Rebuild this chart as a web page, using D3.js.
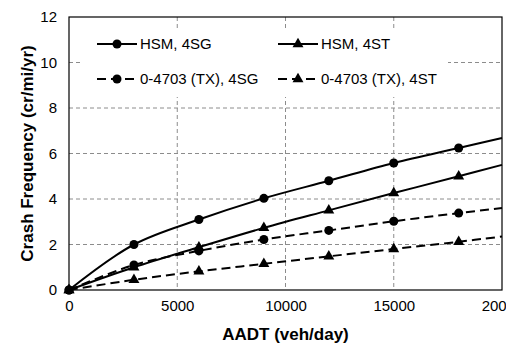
<!DOCTYPE html>
<html>
<head>
<meta charset="utf-8">
<script src="https://cdn.jsdelivr.net/npm/d3@7"></script>
<style>
  body { margin: 0; background: #fff; }
  svg { display: block; font-family: "Liberation Sans", Arial, sans-serif; }
</style>
</head>
<body>
<div id="chart"></div>
<script>
// AADT values along the curves (markers every 3000, curve runs to 20000)
const aadt = [0, 3000, 6000, 9000, 12000, 15000, 18000, 20000];
const markerMax = 18000;

// Crash frequency (cr/mi/yr)
const hsm4SG = [0, 2.0, 3.1, 4.03, 4.8, 5.58, 6.24, 6.68];
const hsm4ST = [0, 1.0, 1.88, 2.73, 3.5, 4.26, 5.0, 5.5];
const tx4SG = [0, 1.1, 1.72, 2.22, 2.62, 3.02, 3.38, 3.6];
const tx4ST = [0, 0.45, 0.82, 1.15, 1.48, 1.8, 2.12, 2.35];

const xTicks = [0, 5000, 10000, 15000, 20000];
const yTicks = [0, 2, 4, 6, 8, 10, 12];

const series = [
  { name: 'HSM, 4SG', values: hsm4SG, symbol: d3.symbolCircle, dashed: false },
  { name: 'HSM, 4ST', values: hsm4ST, symbol: d3.symbolTriangle, dashed: false },
  { name: '0-4703 (TX), 4SG', values: tx4SG, symbol: d3.symbolCircle, dashed: true },
  { name: '0-4703 (TX), 4ST', values: tx4ST, symbol: d3.symbolTriangle, dashed: true }
];

const svg = d3.select('#chart').append('svg')
  .attr('width', 506)
  .attr('height', 350);

const margin = { top: 17, right: 4, bottom: 60, left: 69 };
const width = 502 - margin.left;
const height = 290 - margin.top;

const g = svg.append('g')
  .attr('transform', `translate(${margin.left},${margin.top})`);

const x = d3.scaleLinear().domain([0, 20000]).range([0, width]);
const y = d3.scaleLinear().domain([0, 12]).range([height, 0]);

// Grid lines
g.append('g')
  .selectAll('line')
  .data(yTicks.filter(d => d > 0 && d < 12))
  .join('line')
    .attr('x1', 0).attr('x2', width)
    .attr('y1', d => y(d)).attr('y2', d => y(d))
    .attr('stroke', '#8c8c8c')
    .attr('stroke-width', 1)
    .attr('stroke-dasharray', '4,3');

g.append('g')
  .selectAll('line')
  .data(xTicks.filter(d => d > 0 && d < 20000))
  .join('line')
    .attr('x1', d => x(d)).attr('x2', d => x(d))
    .attr('y1', 0).attr('y2', height)
    .attr('stroke', '#8c8c8c')
    .attr('stroke-width', 1)
    .attr('stroke-dasharray', '4,3');

// Legend background hides the grid
g.append('rect')
  .attr('x', 83 - margin.left).attr('y', 28 - margin.top)
  .attr('width', 365).attr('height', 69)
  .attr('fill', '#fff');

// Axes
const xAxis = g.append('g')
  .attr('transform', `translate(0,${height})`)
  .call(d3.axisBottom(x).tickValues(xTicks).tickSize(0).tickPadding(10).tickFormat(d3.format('d')));
const yAxis = g.append('g')
  .call(d3.axisLeft(y).tickValues(yTicks).tickSize(0).tickPadding(12));

[xAxis, yAxis].forEach(a => {
  a.select('.domain').remove();
  a.selectAll('text')
    .attr('font-size', 15)
    .attr('font-family', '"Liberation Sans", Arial, sans-serif')
    .attr('fill', '#000');
});

// Plot border
g.append('rect')
  .attr('width', width).attr('height', height)
  .attr('fill', 'none')
  .attr('stroke', '#000')
  .attr('stroke-width', 1.2);

// Series lines and markers
const line = d3.line()
  .x(d => x(d[0]))
  .y(d => y(d[1]))
  .curve(d3.curveCatmullRom.alpha(0.5));

const symbolSize = s => s === d3.symbolCircle ? 64 : 52;

series.forEach(s => {
  const pts = aadt.map((a, i) => [a, s.values[i]]);
  g.append('path')
    .datum(pts)
    .attr('fill', 'none')
    .attr('stroke', '#000')
    .attr('stroke-width', 2)
    .attr('stroke-dasharray', s.dashed ? '9,5' : null)
    .attr('d', line);

  g.append('g')
    .selectAll('path')
    .data(pts.filter(p => p[0] <= markerMax))
    .join('path')
      .attr('transform', p => `translate(${x(p[0])},${y(p[1])})`)
      .attr('d', d3.symbol().type(s.symbol).size(symbolSize(s.symbol)))
      .attr('fill', '#000');
});

// Legend
const legendPos = [[97, 44], [278, 44], [97, 79], [278, 79]];
series.forEach((s, i) => {
  const [lx, ly] = legendPos[i];
  const lg = svg.append('g').attr('transform', `translate(${lx},${ly})`);
  lg.append('line')
    .attr('x1', 0).attr('x2', 40)
    .attr('stroke', '#000')
    .attr('stroke-width', 2)
    .attr('stroke-dasharray', s.dashed ? '9,5' : null);
  lg.append('path')
    .attr('transform', 'translate(20,0)')
    .attr('d', d3.symbol().type(s.symbol).size(symbolSize(s.symbol)))
    .attr('fill', '#000');
  lg.append('text')
    .attr('x', 43)
    .attr('y', 5)
    .attr('font-size', 15)
    .text(s.name);
});

// Axis titles
svg.append('text')
  .attr('x', margin.left + width / 2)
  .attr('y', 340)
  .attr('text-anchor', 'middle')
  .attr('font-size', 17)
  .attr('font-weight', 'bold')
  .text('AADT (veh/day)');

svg.append('text')
  .attr('transform', `translate(33,${margin.top + height / 2}) rotate(-90)`)
  .attr('text-anchor', 'middle')
  .attr('font-size', 17)
  .attr('font-weight', 'bold')
  .text('Crash Frequency (cr/mi/yr)');
</script>
</body>
</html>
